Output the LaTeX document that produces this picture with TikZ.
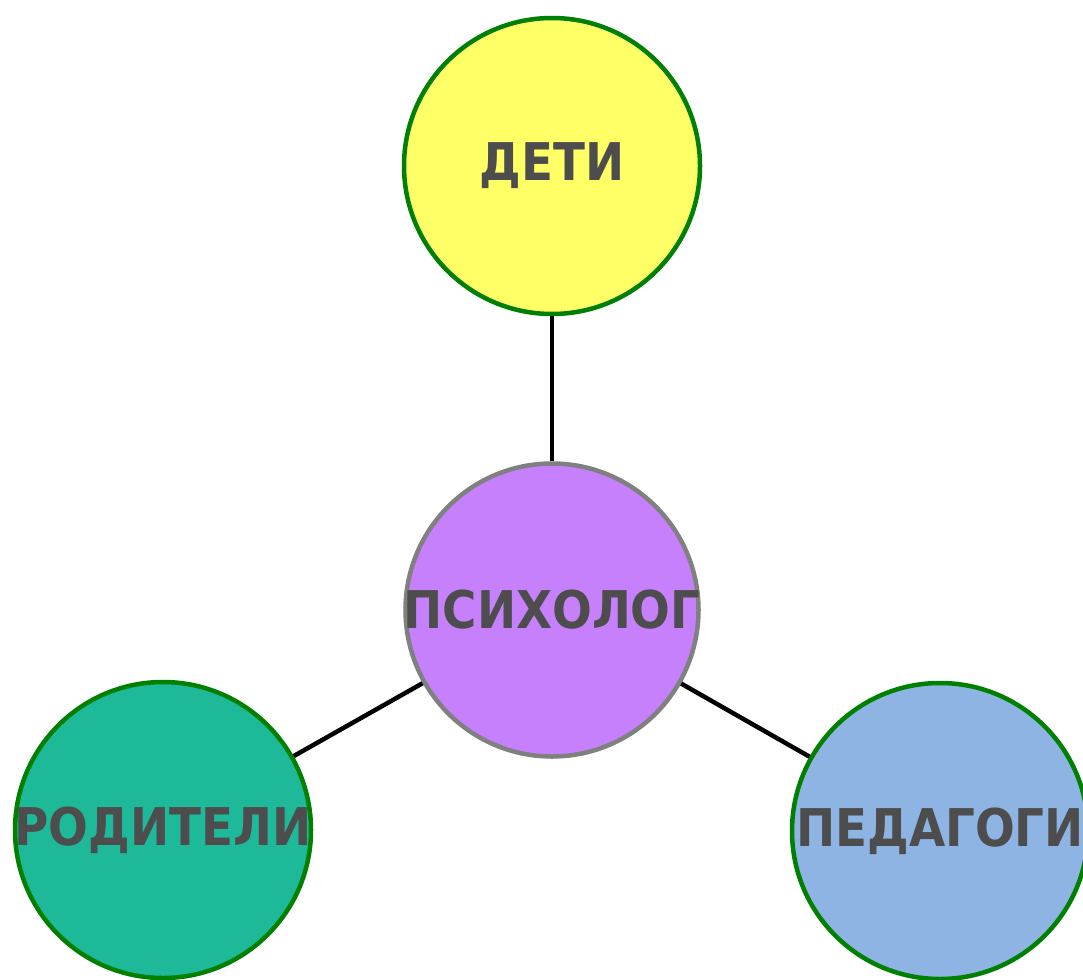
\documentclass[tikz,border=0pt]{standalone}
\usepackage{fontspec}
\setmainfont{DejaVu Sans Condensed}
\usepackage{xcolor}
\usepackage{tikz}
\usetikzlibrary{positioning}

\definecolor{detifill}{HTML}{FFFF66}
\definecolor{psyfill}{HTML}{C680FC}
\definecolor{rodfill}{HTML}{1DB999}
\definecolor{pedfill}{HTML}{8EB4E3}
\definecolor{ringgreen}{HTML}{008000}
\definecolor{labelgray}{HTML}{4D4D4D}

% текст без ширины, чтобы круг не рос
\newcommand{\krugtext}[1]{\makebox[0pt]{\raisebox{-3pt}{#1}}}

\begin{document}
\begin{tikzpicture}[
    x=1pt, y=-1pt,
    % Базовый стиль для кругов
    krug/.style={
        circle,
        draw=ringgreen,
        line width=4.5pt,
        minimum size=296pt,
        inner sep=0pt,
        text=labelgray,
        font=\fontsize{52}{60}\selectfont\bfseries
    },
    % Стиль для связей
    svyaz/.style={
        draw=black,
        line width=4.5pt
    }
]

    % --- ГРАНИЦЫ ---
    \useasboundingbox (0,0) rectangle (1083,979);
    \clip (0,0) rectangle (1083,979);

    % --- КРУГИ ---

    % 1. Центр (психолог)
    \node[krug, draw=gray, fill=psyfill, minimum size=293pt] (psiholog) at (552,610) {\krugtext{ПСИХОЛОГ}};

    % 2. Сверху (дети)
    \node[krug, fill=detifill] (deti) at (552,166) {\krugtext{ДЕТИ}};

    % 3. Слева внизу (родители)
    \node[krug, fill=rodfill] (roditeli) at (163,830) {\krugtext{РОДИТЕЛИ}};

    % 4. Справа внизу (педагоги)
    \node[krug, fill=pedfill] (pedagogi) at (940,831) {\krugtext{ПЕДАГОГИ}};

    % --- СВЯЗИ ---
    \draw[svyaz] (psiholog) -- (deti);
    \draw[svyaz] (psiholog) -- (roditeli);
    \draw[svyaz] (psiholog) -- (pedagogi);

\end{tikzpicture}
\end{document}
